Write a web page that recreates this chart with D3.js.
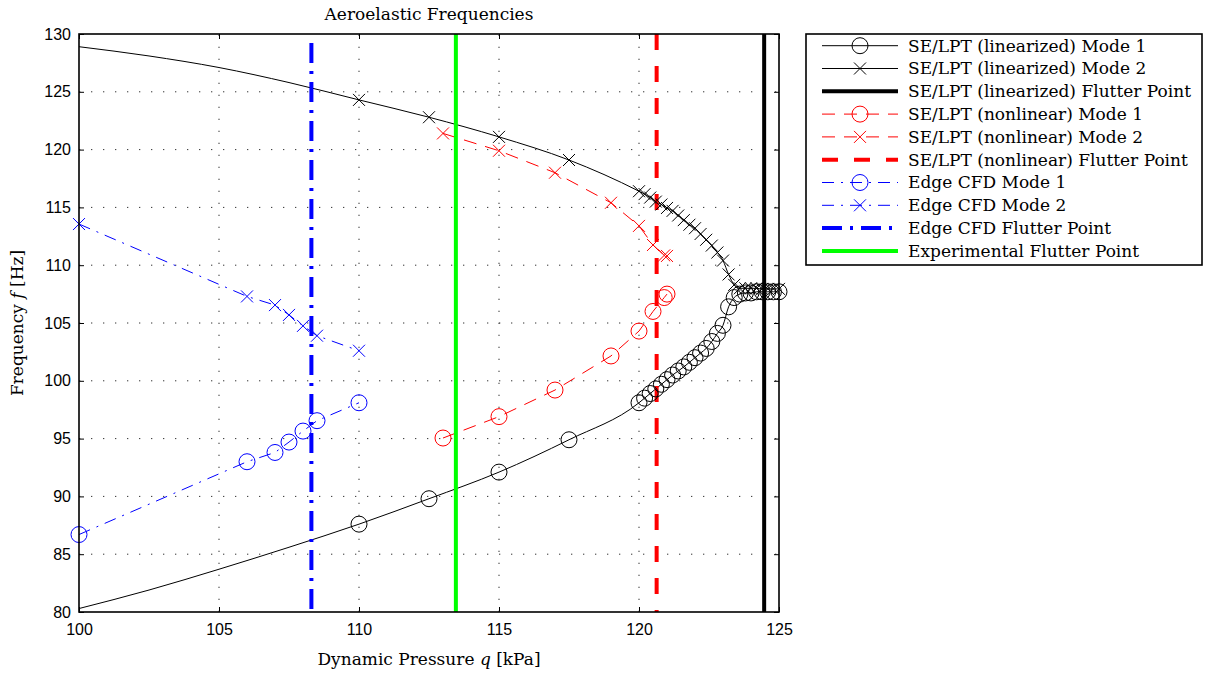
<!DOCTYPE html>
<html>
<head>
<meta charset="utf-8">
<script src="https://cdn.jsdelivr.net/npm/d3@7"></script>
<style>
  body { margin: 0; background: #fff; }
  .tick text { font-family: "Liberation Sans", Arial, sans-serif; font-size: 16px; fill: #000; }
  .serif { font-family: "DejaVu Serif", serif; font-size: 17px; fill: #000; }
</style>
</head>
<body>
<div id="chart"></div>
<script>
// dynamic pressure q [kPa] and frequency f [Hz]
var linQ = [100, 102.5, 105, 107.5, 110, 112.5, 115, 117.5, 120,
  120.2, 120.4, 120.6, 120.8, 121, 121.2, 121.4, 121.6, 121.8, 122,
  122.2, 122.4, 122.6, 122.8, 123, 123.2, 123.4, 123.6, 123.8, 124,
  124.2, 124.4, 124.6, 124.8, 125];
var linMode1 = [80.3, 81.9, 83.7, 85.6, 87.6, 89.8, 92.1, 94.9, 98.1,
  98.5, 98.9, 99.3, 99.7, 100.1, 100.5, 100.85, 101.2, 101.6, 102.0,
  102.4, 102.8, 103.4, 104.1, 104.8, 106.4, 107.2, 107.5, 107.6, 107.6,
  107.7, 107.7, 107.7, 107.7, 107.7];
var linMode2 = [128.9, 128.1, 127.1, 125.8, 124.3, 122.8, 121.1, 119.1, 116.4,
  116.15, 115.85, 115.5, 115.25, 114.95, 114.7, 114.3, 113.9, 113.5, 113.2,
  112.7, 112.2, 111.7, 111.1, 110.4, 109.2, 108.3, 108.0, 108.0, 108.0,
  108.0, 107.95, 107.95, 107.95, 107.95];
var linMarkerFrom = 110; // markers only drawn from here on

var nonQ = [113, 115, 117, 119, 120, 120.5, 120.9, 121];
var nonMode1 = [95.05, 96.9, 99.2, 102.15, 104.3, 106.0, 107.2, 107.5];
var nonMode2 = [121.4, 119.9, 118.0, 115.4, 113.4, 111.75, 110.85, 110.8];

var edgeQ = [100, 106, 107, 107.5, 108, 108.5, 110];
var edgeMode1 = [86.7, 93.0, 93.8, 94.7, 95.65, 96.55, 98.1];
var edgeMode2 = [113.56, 107.3, 106.55, 105.7, 104.75, 103.9, 102.6];

var flutterLin = 124.47;
var flutterNon = 120.63;
var flutterEdge = 108.3;
var flutterExp = 113.46;

var xTicks = [100, 105, 110, 115, 120, 125];
var yTicks = [80, 85, 90, 95, 100, 105, 110, 115, 120, 125, 130];

var legendLabels = [
  "SE/LPT (linearized) Mode 1",
  "SE/LPT (linearized) Mode 2",
  "SE/LPT (linearized) Flutter Point",
  "SE/LPT (nonlinear) Mode 1",
  "SE/LPT (nonlinear) Mode 2",
  "SE/LPT (nonlinear) Flutter Point",
  "Edge CFD Mode 1",
  "Edge CFD Mode 2",
  "Edge CFD Flutter Point",
  "Experimental Flutter Point"
];

var W = 1206, H = 673;
var pL = 79, pR = 779, pT = 34, pB = 612;

var svg = d3.select("#chart").append("svg")
  .attr("width", W).attr("height", H);

var x = d3.scaleLinear().domain([100, 125]).range([pL, pR]);
var y = d3.scaleLinear().domain([80, 130]).range([pB, pT]);

svg.append("clipPath").attr("id", "plotclip")
  .append("rect").attr("x", pL).attr("y", pT)
  .attr("width", pR - pL).attr("height", pB - pT);

// dotted grid
var grid = svg.append("g").attr("stroke", "#333").attr("stroke-width", 1)
  .attr("stroke-dasharray", "1.3,10.7");
grid.selectAll(".vg").data(xTicks.slice(1, -1)).enter().append("line")
  .attr("x1", function (d) { return x(d); }).attr("x2", function (d) { return x(d); })
  .attr("y1", pB).attr("y2", pT);
grid.selectAll(".hg").data(yTicks.slice(1, -1)).enter().append("line")
  .attr("y1", function (d) { return y(d); }).attr("y2", function (d) { return y(d); })
  .attr("x1", pL).attr("x2", pR);

// styles for each series
var styles = [
  { color: "#000", width: 1, dash: null, marker: "o" },
  { color: "#000", width: 1, dash: null, marker: "x" },
  { color: "#000", width: 4, dash: null, marker: null },
  { color: "#f00", width: 1, dash: "13,9", marker: "o" },
  { color: "#f00", width: 1, dash: "13,9", marker: "x" },
  { color: "#f00", width: 4, dash: "16,16", marker: null },
  { color: "#00f", width: 1, dash: "12,7,2,7", marker: "o" },
  { color: "#00f", width: 1, dash: "12,7,2,7", marker: "x" },
  { color: "#00f", width: 4, dash: "20,8,3,8", marker: null },
  { color: "#0f0", width: 4, dash: null, marker: null }
];

function zip(qs, fs) {
  return qs.map(function (q, i) { return [q, fs[i]]; });
}

var curves = [
  { s: 0, pts: zip(linQ, linMode1), from: linMarkerFrom, smooth: true },
  { s: 1, pts: zip(linQ, linMode2), from: linMarkerFrom, smooth: true },
  { s: 3, pts: zip(nonQ, nonMode1), from: 0 },
  { s: 4, pts: zip(nonQ, nonMode2), from: 0 },
  { s: 6, pts: zip(edgeQ, edgeMode1), from: 0 },
  { s: 7, pts: zip(edgeQ, edgeMode2), from: 0 }
];
var verticals = [
  { s: 2, q: flutterLin },
  { s: 5, q: flutterNon },
  { s: 8, q: flutterEdge },
  { s: 9, q: flutterExp }
];

var line = d3.line()
  .x(function (d) { return x(d[0]); })
  .y(function (d) { return y(d[1]); });
var smoothLine = d3.line()
  .curve(d3.curveMonotoneX)
  .x(function (d) { return x(d[0]); })
  .y(function (d) { return y(d[1]); });

var plot = svg.append("g");
var lines = plot.append("g").attr("clip-path", "url(#plotclip)");

function marker(g, type, color) {
  if (type === "o") {
    g.append("circle").attr("r", 8).attr("fill", "none")
      .attr("stroke", color).attr("stroke-width", 1);
  } else if (type === "x") {
    g.append("path").attr("d", "M-6,-6L6,6M-6,6L6,-6").attr("fill", "none")
      .attr("stroke", color).attr("stroke-width", 1);
  }
}

curves.forEach(function (c) {
  var st = styles[c.s];
  lines.append("path").datum(c.pts).attr("d", c.smooth ? smoothLine : line)
    .attr("fill", "none").attr("stroke", st.color)
    .attr("stroke-width", st.width)
    .attr("stroke-dasharray", st.dash);
});

verticals.forEach(function (v) {
  var st = styles[v.s];
  lines.append("line")
    .attr("x1", x(v.q)).attr("x2", x(v.q))
    .attr("y1", pT + (v.s === 8 ? 9 : 0)).attr("y2", pB)
    .attr("stroke", st.color).attr("stroke-width", st.width)
    .attr("stroke-dasharray", st.dash);
});

curves.forEach(function (c) {
  var st = styles[c.s];
  plot.selectAll(null).data(c.pts.filter(function (d) { return d[0] >= c.from; }))
    .enter().append("g")
    .attr("transform", function (d) { return "translate(" + x(d[0]) + "," + y(d[1]) + ")"; })
    .each(function () { marker(d3.select(this), st.marker, st.color); });
});

// axes, ticks pointing inward on all four sides
svg.append("g").attr("transform", "translate(0," + pB + ")")
  .call(d3.axisBottom(x).tickValues(xTicks).tickSize(-5).tickPadding(12))
  .call(function (g) { g.select(".domain").remove(); });
svg.append("g").attr("transform", "translate(0," + pT + ")")
  .call(d3.axisTop(x).tickValues(xTicks).tickSize(-5).tickFormat(""))
  .call(function (g) { g.select(".domain").remove(); });
svg.append("g").attr("transform", "translate(" + pL + ",0)")
  .call(d3.axisLeft(y).tickValues(yTicks).tickSize(-5).tickPadding(8))
  .call(function (g) { g.select(".domain").remove(); });
svg.append("g").attr("transform", "translate(" + pR + ",0)")
  .call(d3.axisRight(y).tickValues(yTicks).tickSize(-5).tickFormat(""))
  .call(function (g) { g.select(".domain").remove(); });
svg.selectAll(".tick line").attr("stroke", "#000");

svg.append("rect").attr("x", pL).attr("y", pT)
  .attr("width", pR - pL).attr("height", pB - pT)
  .attr("fill", "none").attr("stroke", "#000").attr("stroke-width", 1.6);

// title and axis labels
svg.append("text").attr("class", "serif")
  .attr("x", (pL + pR) / 2).attr("y", 20).attr("text-anchor", "middle")
  .text("Aeroelastic Frequencies");

var xl = svg.append("text").attr("class", "serif")
  .attr("x", (pL + pR) / 2).attr("y", 665).attr("text-anchor", "middle");
xl.append("tspan").text("Dynamic Pressure ");
xl.append("tspan").attr("font-style", "italic").text("q");
xl.append("tspan").text(" [kPa]");

var yl = svg.append("text").attr("class", "serif")
  .attr("transform", "translate(23," + (pT + pB) / 2 + ") rotate(-90)")
  .attr("text-anchor", "middle");
yl.append("tspan").text("Frequency ");
yl.append("tspan").attr("font-style", "italic").text("f");
yl.append("tspan").text(" [Hz]");

// legend
var lg = svg.append("g");
lg.append("rect").attr("x", 806).attr("y", 34).attr("width", 396).attr("height", 231)
  .attr("fill", "#fff").attr("stroke", "#000").attr("stroke-width", 1.6);

var rows = lg.selectAll(".row").data(legendLabels).enter().append("g")
  .attr("transform", function (d, i) { return "translate(0," + (45.7 + i * 22.8) + ")"; });
rows.each(function (d, i) {
  var g = d3.select(this);
  var st = styles[i];
  g.append("line").attr("x1", 822).attr("x2", 898)
    .attr("stroke", st.color).attr("stroke-width", st.width)
    .attr("stroke-dasharray", st.dash);
  if (st.marker) {
    var m = g.append("g").attr("transform", "translate(860,0)");
    marker(m, st.marker, st.color);
  }
  g.append("text").attr("class", "serif").attr("x", 908).attr("dy", "0.35em").text(d);
});
</script>
</body>
</html>
